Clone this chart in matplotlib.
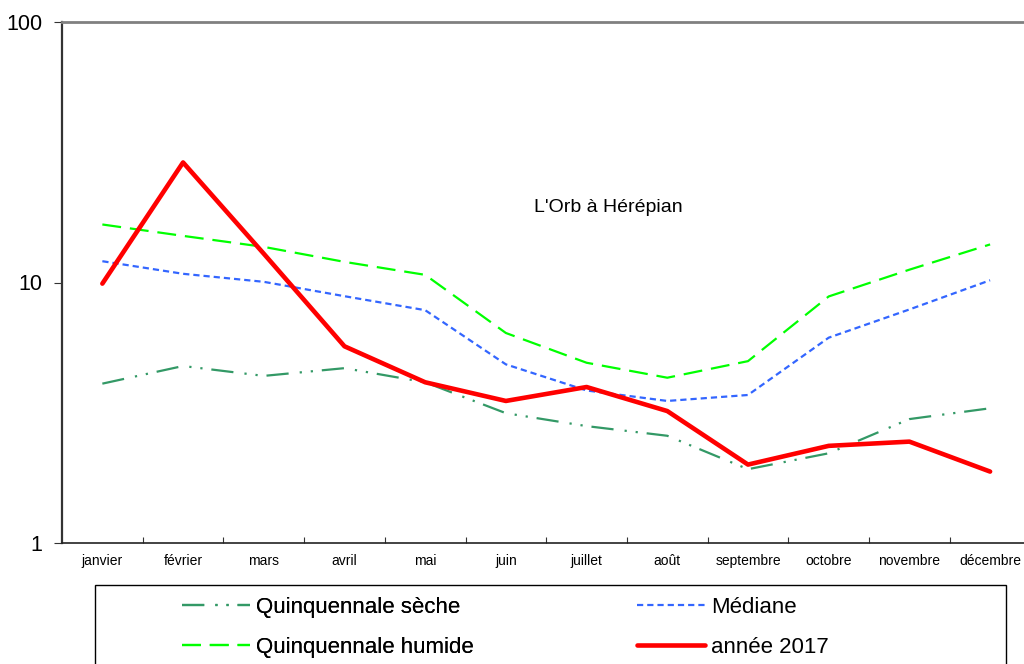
import numpy as np
import matplotlib
matplotlib.use("Agg")
import matplotlib.pyplot as plt
from matplotlib.patches import Rectangle

plt.rcParams['font.family'] = ['Liberation Sans', 'DejaVu Sans']

mois = ['janvier', 'février', 'mars', 'avril', 'mai', 'juin', 'juillet',
        'août', 'septembre', 'octobre', 'novembre', 'décembre']

seche = [4.09, 4.78, 4.38, 4.69, 4.14, 3.15, 2.81, 2.58, 1.92, 2.21, 2.99, 3.29]
humide = [16.7, 15.1, 13.7, 12.0, 10.7, 6.4, 4.92, 4.31, 4.99, 8.84, 11.2, 14.0]
mediane = [12.07, 10.8, 10.06, 8.86, 7.83, 4.85, 3.85, 3.51, 3.70, 6.14, 7.88, 10.2]
annee2017 = [9.9, 28.9, 12.9, 5.69, 4.14, 3.51, 3.97, 3.21, 2.0, 2.36, 2.45, 1.88]

W, H = 1024, 664
fig = plt.figure(figsize=(W / 100, H / 100), dpi=100)
ax = fig.add_axes([62 / W, (H - 543) / H, (W - 62) / W, 521 / H])

x = np.arange(len(mois))

l1, = ax.plot(x, seche, color='#339966', lw=1.6,
              dashes=(10, 5, 1, 4, 1, 4), label='Quinquennale sèche')
l2, = ax.plot(x, humide, color='#00FF00', lw=1.6,
              dashes=(8.5, 4), label='Quinquennale humide')
l3, = ax.plot(x, mediane, color='#3366FF', lw=1.6,
              dashes=(2.8, 1.8), label='Médiane')
l4, = ax.plot(x, annee2017, color='#FF0000', lw=3.3,
              solid_capstyle='round', label='année 2017')

ax.set_yscale('log')
ax.set_ylim(1, 100)
ax.set_xlim(-0.5, 11.42)

# y axis
ax.set_yticks([1, 10, 100])
ax.set_yticklabels(['1', '10', '100'])
ax.yaxis.set_minor_locator(matplotlib.ticker.NullLocator())
ax.tick_params(axis='y', direction='out', length=6, pad=8,
               labelsize=15.5, color='#333333')

# x axis: ticks at boundaries, labels at centers
ax.set_xticks(np.arange(0.5, 11.5, 1))
ax.set_xticklabels([])
ax.set_xticks(x, minor=True)
ax.set_xticklabels(mois, minor=True)
ax.tick_params(axis='x', which='major', direction='in', length=4, color='#333333')
ax.tick_params(axis='x', which='minor', length=0, pad=16, labelsize=10)
for lbl in ax.get_xticklabels(minor=True):
    lbl.set_verticalalignment('baseline')

ax.spines['right'].set_visible(False)
ax.spines['top'].set_color('#808080')
ax.spines['top'].set_linewidth(2)
ax.spines['left'].set_color('#333333')
ax.spines['left'].set_linewidth(1.6)
ax.spines['bottom'].set_color('#222222')
ax.spines['bottom'].set_linewidth(1.2)

fig.text(608 / W, (H - 208) / H, "L'Orb à Hérépian",
         fontsize=14, ha='center', va='center')

# legend box (cut by the figure edge)
fig.add_artist(Rectangle((95 / W, -0.1), (1006 - 95) / W, (H - 585) / H + 0.1,
                         transform=fig.transFigure, fill=False,
                         ec='black', lw=1))

kw = dict(frameon=False, fontsize=16, handlelength=3.05, handletextpad=0.3,
          labelspacing=0.86, borderpad=0, borderaxespad=0, loc='upper left')
leg1 = fig.legend(handles=[l1, l2], bbox_to_anchor=(182 / W, (H - 597) / H), **kw)
fig.add_artist(leg1)
fig.legend(handles=[l3, l4], bbox_to_anchor=(637 / W, (H - 597) / H), **kw)

fig.savefig('out.png', dpi=100)
